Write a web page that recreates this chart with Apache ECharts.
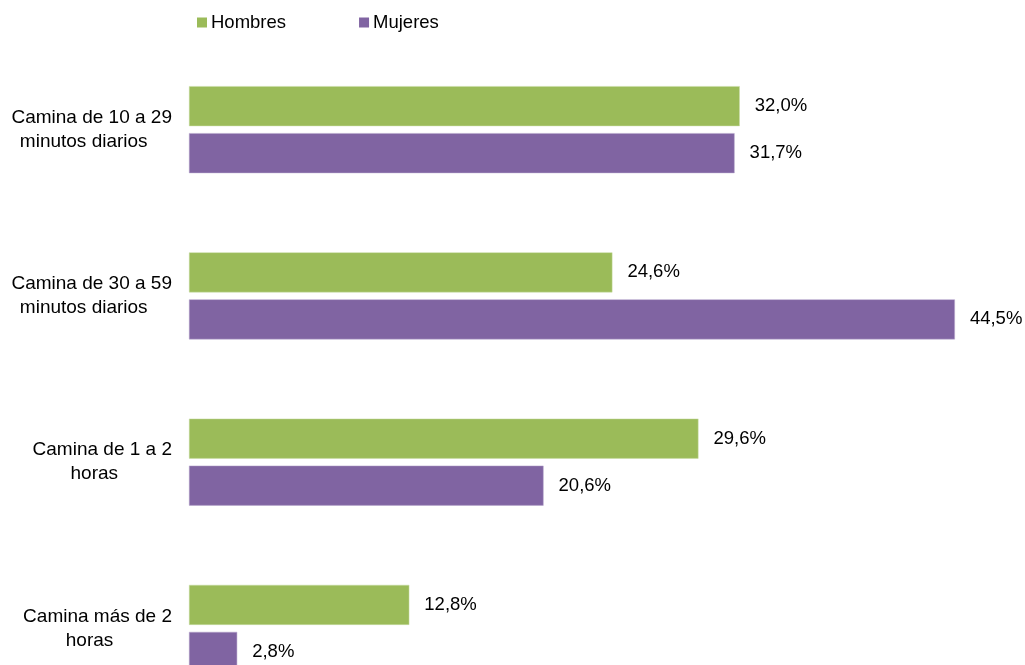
<!DOCTYPE html>
<html>
<head>
<meta charset="utf-8">
<script src="https://cdn.jsdelivr.net/npm/echarts@6/dist/echarts.min.js"></script>
<style>
html,body{margin:0;padding:0;background:#fff;}
#chart{width:1025px;height:665px;}
</style>
</head>
<body>
<div id="chart"></div>
<script>
var categories = [
  "Camina de 10 a 29\nminutos diarios",
  "Camina de 30 a 59\nminutos diarios",
  "Camina de 1 a 2\nhoras",
  "Camina más de 2\nhoras"
];
var hombres = [32.0, 24.6, 29.6, 12.8];
var mujeres = [31.7, 44.5, 20.6, 2.8];
var seriesNames = ["Hombres", "Mujeres"];

var font = "Arial, 'Liberation Sans', sans-serif";
var fs = 18.5;
var fsCat = 19;

// second line of each category label is centred under the first (Excel-style wrap)
var ctx = document.createElement('canvas').getContext('2d');
ctx.font = fsCat + 'px ' + font;
var rich = {t: {fontFamily: font, fontSize: fsCat, color: '#000', lineHeight: 24}};
categories.forEach(function (c, i) {
  var p = c.split('\n');
  var pad = (ctx.measureText(p[0]).width - ctx.measureText(p[1]).width) / 2 + 8;
  rich['r' + i] = {fontFamily: font, fontSize: fsCat, color: '#000', lineHeight: 24, padding: [0, pad, 0, 0]};
});

var chart = echarts.init(document.getElementById('chart'), null, {renderer: 'canvas'});
function fmt(p){ return p.value.toFixed(1).replace('.', ',') + '%'; }
chart.setOption({
  animation: false,
  legend: {
    left: 197, top: 13, padding: 0,
    itemWidth: 10, itemHeight: 10, itemGap: 73,
    icon: 'rect',
    itemStyle: {borderWidth: 0},
    textStyle: {fontFamily: font, fontSize: fs, color: '#000', padding: [0,0,0,-1]},
    data: seriesNames
  },
  grid: {left: 189, top: 46.5, width: 774.5, height: 665, containLabel: false, outerBoundsMode: 'none'},
  xAxis: {
    type: 'value', min: 0, max: 45,
    show: false, splitLine: {show: false}
  },
  yAxis: {
    type: 'category', inverse: true, data: categories,
    axisLine: {show: false}, axisTick: {show: false},
    axisLabel: {
      fontFamily: font, fontSize: fsCat, color: '#000',
      align: 'right', margin: 17, lineHeight: 24,
      rich: rich,
      formatter: function (v, idx) {
        var p = v.split('\n');
        return '{t|' + p[0] + '}\n{r' + idx + '|' + p[1] + '}';
      }
    }
  },
  series: [
    {
      name: seriesNames[0], type: 'bar', data: hombres,
      barWidth: 40, barGap: '17.5%',
      itemStyle: {color: '#9BBB59', borderColor: '#C9DDA6', borderWidth: 0.5},
      label: {show: true, position: 'right', distance: 15, formatter: fmt,
        fontFamily: font, fontSize: fs, color: '#000'}
    },
    {
      name: seriesNames[1], type: 'bar', data: mujeres,
      barWidth: 40,
      itemStyle: {color: '#8064A2', borderColor: '#B6A6CC', borderWidth: 0.5},
      label: {show: true, position: 'right', distance: 15, formatter: fmt,
        fontFamily: font, fontSize: fs, color: '#000'}
    }
  ]
});
</script>
</body>
</html>
